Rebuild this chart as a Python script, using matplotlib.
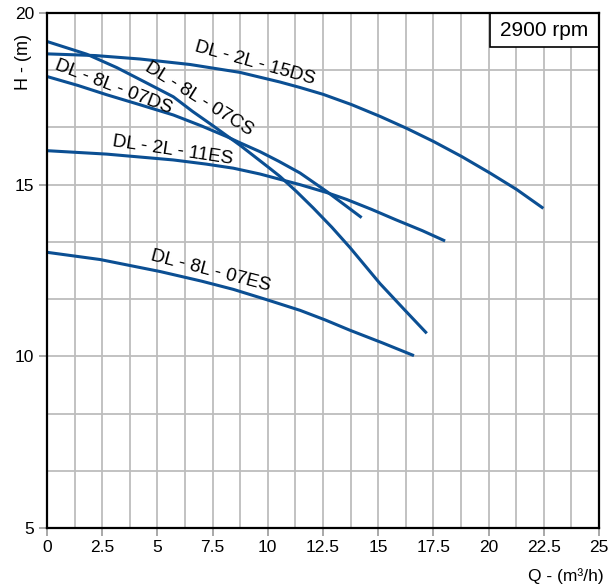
import numpy as np
import matplotlib.pyplot as plt
from matplotlib.ticker import MultipleLocator
from matplotlib.patches import Rectangle

plt.rcParams['font.family'] = ['Liberation Sans', 'DejaVu Sans']

# curve data (Q in m3/h, H in m)
q_15ds = [0, 2.2, 4.21, 6.48, 8.74, 10.55, 11.46, 12.51, 13.8, 15.08, 16.29, 17.5, 18.78, 20.06, 21.27, 22.48]
h_15ds = [18.81, 18.76, 18.66, 18.5, 18.27, 17.99, 17.83, 17.63, 17.33, 16.99, 16.64, 16.26, 15.82, 15.34, 14.86, 14.31]

q_07cs = [0, 1.8, 3.16, 4.4, 5.72, 6.6, 7.53, 8.74, 10.1, 10.55, 11.3, 12.06, 12.9, 13.72, 15.08, 16.2, 17.2]
h_07cs = [19.17, 18.8, 18.41, 18.0, 17.56, 17.13, 16.71, 16.15, 15.47, 15.24, 14.8, 14.32, 13.76, 13.17, 12.12, 11.35, 10.67]

q_07ds = [0, 1.4, 2.7, 4.2, 5.72, 7.0, 8.14, 8.74, 9.65, 10.5, 11.46, 12.67, 14.25]
h_07ds = [18.15, 17.89, 17.62, 17.33, 17.03, 16.71, 16.4, 16.22, 15.96, 15.68, 15.34, 14.8, 14.04]

q_11es = [0, 2.7, 5.72, 7.2, 8.44, 9.65, 11.46, 12.67, 13.57, 14.7, 15.79, 17.0, 18.03]
h_11es = [15.99, 15.89, 15.72, 15.6, 15.48, 15.31, 15.0, 14.77, 14.57, 14.28, 13.98, 13.66, 13.36]

q_07es = [0, 2.4, 5.12, 7.0, 8.44, 9.95, 11.46, 12.6, 13.72, 15.2, 16.62]
h_07es = [13.03, 12.82, 12.47, 12.19, 11.95, 11.65, 11.34, 11.06, 10.76, 10.39, 10.02]

labels = ["DL - 2L - 15DS", "DL - 8L - 07CS", "DL - 8L - 07DS", "DL - 2L - 11ES", "DL - 8L - 07ES"]
label_xy = [(9.4, 18.55), (6.9, 17.5), (3.0, 17.85), (5.7, 15.98), (7.4, 12.47)]
label_rot = [-15.5, -32, -21, -8.5, -14.5]

x_ticks = [0, 2.5, 5, 7.5, 10, 12.5, 15, 17.5, 20, 22.5, 25]
x_tick_labels = ["0", "2.5", "5", "7.5", "10", "12.5", "15", "17.5", "20", "22.5", "25"]
y_ticks = [5, 10, 15, 20]

blue = "#0b4f93"

fig = plt.figure(figsize=(6.13, 5.84), dpi=100)
ax = fig.add_axes([47/613, 56/584, 552/613, 515/584])

ax.set_xlim(0, 25)
ax.set_ylim(5, 20)
ax.set_xticks(x_ticks)
ax.set_xticklabels(x_tick_labels)
ax.set_yticks(y_ticks)
ax.xaxis.set_minor_locator(MultipleLocator(1.25))
ax.yaxis.set_minor_locator(MultipleLocator(5/3))
ax.grid(which='both', color='#bdbdbd', linewidth=1.3)
ax.set_axisbelow(True)
ax.tick_params(which='major', length=6, width=1.2, color='#999999', labelsize=12.5, pad=3)
ax.tick_params(which='minor', length=0)
for sp in ax.spines.values():
    sp.set_linewidth(1.6)
    sp.set_color('black')
    sp.set_zorder(5)

for q, h in [(q_15ds, h_15ds), (q_07cs, h_07cs), (q_07ds, h_07ds), (q_11es, h_11es), (q_07es, h_07es)]:
    ax.plot(q, h, color=blue, linewidth=2.2, solid_capstyle='butt', solid_joinstyle='round')

for lab, (lx, ly), r in zip(labels, label_xy, label_rot):
    ax.text(lx, ly, lab, rotation=r, rotation_mode='anchor', ha='center', va='center', fontsize=13.5)

# rpm box in the top right corner
ax.add_patch(Rectangle((0.8025, 0.934), 0.1975, 0.066, transform=ax.transAxes,
                       facecolor='white', edgecolor='black', linewidth=1.2, zorder=4))
ax.text(0.901, 0.966, "2900 rpm", transform=ax.transAxes, ha='center', va='center',
        fontsize=15, zorder=6)

fig.text(23/613, 1 - 62/584, "H - (m)", rotation=90, ha='center', va='center', fontsize=13)
fig.text(604/613, 1 - 576/584, "Q - (m³/h)", ha='right', va='center', fontsize=12.5)

fig.savefig("out.png", dpi=100)
